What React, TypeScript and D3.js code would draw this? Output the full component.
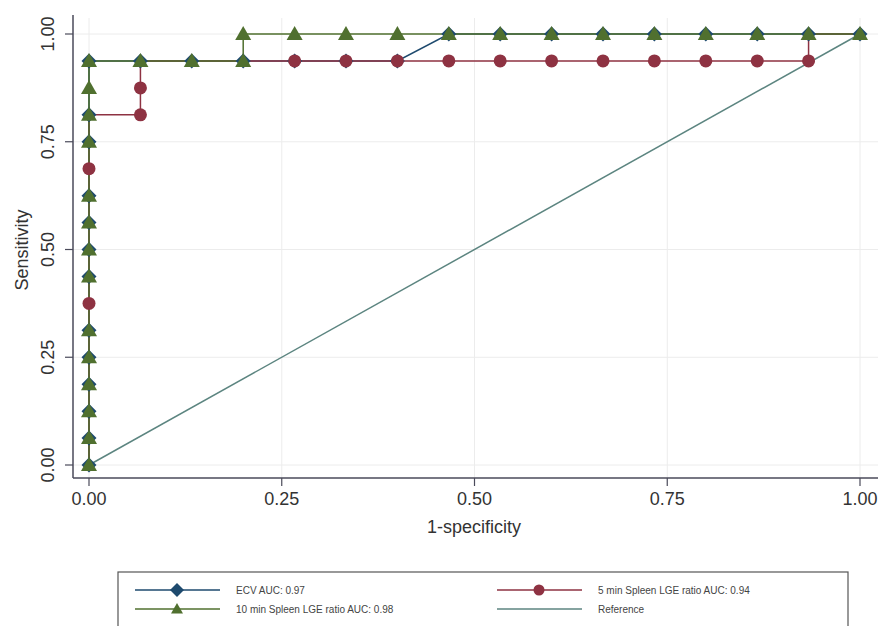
import React from "react";
import * as d3 from "d3";

const W = 878;
const H = 626;

// ROC points [1-specificity, sensitivity]
const ecvX = [0, 0, 0, 0, 0, 0, 0, 0, 0, 0, 0, 0, 0, 0.0667, 0.1333, 0.2, 0.2667, 0.3333, 0.4, 0.4667, 0.5333, 0.6, 0.6667, 0.7333, 0.8, 0.8667, 0.9333, 1];
const ecvY = [0, 0.0625, 0.125, 0.1875, 0.25, 0.3125, 0.4375, 0.5, 0.5625, 0.625, 0.75, 0.8125, 0.9375, 0.9375, 0.9375, 0.9375, 0.9375, 0.9375, 0.9375, 1, 1, 1, 1, 1, 1, 1, 1, 1];

const min5X = [0, 0, 0, 0, 0.0667, 0.0667, 0.0667, 0.1333, 0.2, 0.2667, 0.3333, 0.4, 0.4667, 0.5333, 0.6, 0.6667, 0.7333, 0.8, 0.8667, 0.9333, 0.9333, 1];
const min5Y = [0, 0.375, 0.6875, 0.8125, 0.8125, 0.875, 0.9375, 0.9375, 0.9375, 0.9375, 0.9375, 0.9375, 0.9375, 0.9375, 0.9375, 0.9375, 0.9375, 0.9375, 0.9375, 0.9375, 1, 1];
// whether a visible marker is drawn at each 5-min point
const min5Marked = [false, true, true, false, true, true, false, false, false, true, true, true, true, true, true, true, true, true, true, true, false, false];

const min10X = [0, 0, 0, 0, 0, 0, 0, 0, 0, 0, 0, 0, 0, 0, 0.0667, 0.1333, 0.2, 0.2, 0.2667, 0.3333, 0.4, 0.4667, 0.5333, 0.6, 0.6667, 0.7333, 0.8, 0.8667, 0.9333, 1];
const min10Y = [0, 0.0625, 0.125, 0.1875, 0.25, 0.3125, 0.4375, 0.5, 0.5625, 0.625, 0.75, 0.8125, 0.875, 0.9375, 0.9375, 0.9375, 0.9375, 1, 1, 1, 1, 1, 1, 1, 1, 1, 1, 1, 1, 1];

const refX = [0, 1];
const refY = [0, 1];

const ticks = [0, 0.25, 0.5, 0.75, 1];
const tickLabels = ["0.00", "0.25", "0.50", "0.75", "1.00"];

const legendLabels = [
  "ECV AUC: 0.97",
  "5 min Spleen LGE ratio AUC: 0.94",
  "10 min Spleen LGE ratio AUC: 0.98",
  "Reference",
];

const C_ECV = "#1e4a6e";
const C_5 = "#8e3242";
const C_10 = "#50702f";
const C_REF = "#5c8580";

const zip = (xs: number[], ys: number[]) => xs.map((x, i) => [x, ys[i]] as [number, number]);

export default function App() {
  const x = d3.scaleLinear().domain([0, 1]).range([89, 860]);
  const y = d3.scaleLinear().domain([0, 1]).range([465, 34]);
  const line = d3.line<[number, number]>().x((d) => x(d[0])).y((d) => y(d[1]));

  const ecv = zip(ecvX, ecvY);
  const m5 = zip(min5X, min5Y);
  const m10 = zip(min10X, min10Y);
  const ref = zip(refX, refY);

  const diamond = (cx: number, cy: number, r: number) =>
    `M${cx},${cy - r}L${cx + r},${cy}L${cx},${cy + r}L${cx - r},${cy}Z`;
  const tri = (cx: number, cy: number, r: number) =>
    `M${cx},${cy - r}L${cx + r},${cy + r * 0.75}L${cx - r},${cy + r * 0.75}Z`;

  const axisLeft = 73;
  const axisBottom = 478;
  const font = "'Liberation Sans', Arial, sans-serif";

  return (
    <svg width={W} height={H} style={{ position: "absolute", left: 0, top: 0, background: "#fff" }}>
      <rect x={0} y={0} width={W} height={H} fill="#fff" />
      {/* grid */}
      {ticks.map((t, i) => (
        <line key={"gx" + i} x1={x(t)} x2={x(t)} y1={18} y2={axisBottom} stroke="#ececec" strokeWidth={1} />
      ))}
      {ticks.map((t, i) => (
        <line key={"gy" + i} x1={axisLeft} x2={W} y1={y(t)} y2={y(t)} stroke="#ececec" strokeWidth={1} />
      ))}
      {/* axes */}
      <line x1={axisLeft} x2={axisLeft} y1={15} y2={axisBottom} stroke="#4a4a5a" strokeWidth={1.5} />
      <line x1={axisLeft} x2={W} y1={axisBottom} y2={axisBottom} stroke="#4a4a5a" strokeWidth={1.5} />
      {ticks.map((t, i) => (
        <g key={"tx" + i}>
          <line x1={x(t)} x2={x(t)} y1={axisBottom} y2={axisBottom + 8} stroke="#4a4a5a" strokeWidth={1.2} />
          <text x={x(t)} y={axisBottom + 27} textAnchor="middle" fontFamily={font} fontSize={18} fill="#333">
            {tickLabels[i]}
          </text>
        </g>
      ))}
      {ticks.map((t, i) => (
        <g key={"ty" + i}>
          <line x1={axisLeft - 8} x2={axisLeft} y1={y(t)} y2={y(t)} stroke="#4a4a5a" strokeWidth={1.2} />
          <text
            transform={`translate(${axisLeft - 19},${y(t)}) rotate(-90)`}
            textAnchor="middle"
            fontFamily={font}
            fontSize={18}
            fill="#333"
          >
            {tickLabels[i]}
          </text>
        </g>
      ))}
      <text x={474} y={533} textAnchor="middle" fontFamily={font} fontSize={18} fill="#333">
        1-specificity
      </text>
      <text transform={`translate(28,250) rotate(-90)`} textAnchor="middle" fontFamily={font} fontSize={18} fill="#333">
        Sensitivity
      </text>

      {/* reference line */}
      <path d={line(ref) || ""} fill="none" stroke={C_REF} strokeWidth={1.5} />
      {/* series lines */}
      <path d={line(ecv) || ""} fill="none" stroke={C_ECV} strokeWidth={1.5} />
      <path d={line(m5) || ""} fill="none" stroke={C_5} strokeWidth={1.5} />
      <path d={line(m10) || ""} fill="none" stroke={C_10} strokeWidth={1.5} />

      {/* markers */}
      {ecv.map((d, i) => (
        <path key={"me" + i} d={diamond(x(d[0]), y(d[1]), 7.5)} fill={C_ECV} />
      ))}
      {m5.map((d, i) =>
        min5Marked[i] ? <circle key={"m5" + i} cx={x(d[0])} cy={y(d[1])} r={6.5} fill={C_5} /> : null
      )}
      {m10.map((d, i) => (
        <path key={"m10" + i} d={tri(x(d[0]), y(d[1]), 8)} fill={C_10} />
      ))}

      {/* legend */}
      <rect x={118} y={572} width={730} height={70} fill="#fff" stroke="#555" strokeWidth={1.2} />
      <g fontFamily={font} fontSize={10} fill="#444">
        <line x1={135} x2={220} y1={590} y2={590} stroke={C_ECV} strokeWidth={1.5} />
        <path d={diamond(177, 590, 7)} fill={C_ECV} />
        <text x={236} y={594}>{legendLabels[0]}</text>

        <line x1={497} x2={582} y1={590} y2={590} stroke={C_5} strokeWidth={1.5} />
        <circle cx={539} cy={590} r={5.5} fill={C_5} />
        <text x={598} y={594}>{legendLabels[1]}</text>

        <line x1={135} x2={220} y1={609} y2={609} stroke={C_10} strokeWidth={1.5} />
        <path d={tri(177, 609, 6)} fill={C_10} />
        <text x={236} y={613}>{legendLabels[2]}</text>

        <line x1={497} x2={582} y1={609} y2={609} stroke={C_REF} strokeWidth={1.5} />
        <text x={598} y={613}>{legendLabels[3]}</text>
      </g>
    </svg>
  );
}
